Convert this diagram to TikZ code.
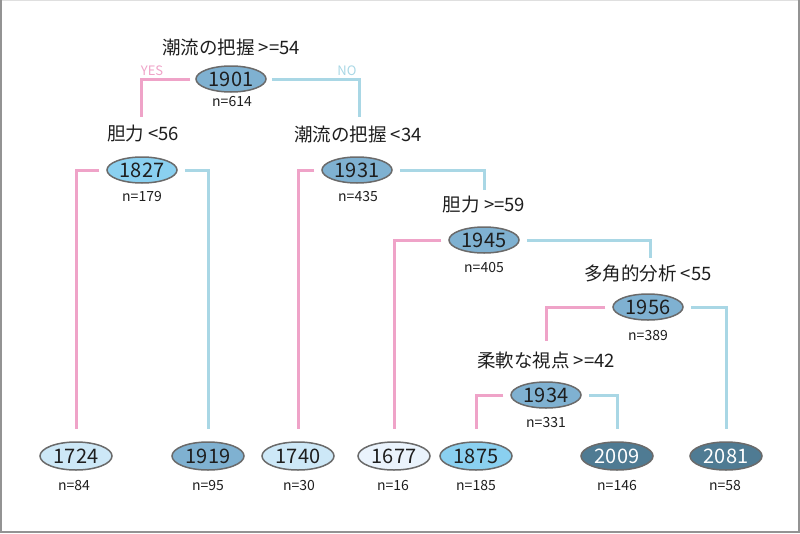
\documentclass[tikz,border=0pt]{standalone}
\usepackage{fontspec}
\setmainfont{Noto Sans CJK JP}
\usetikzlibrary{shapes.geometric}
\definecolor{cmid}{HTML}{7FB1D1}
\definecolor{csky}{HTML}{8AD0F0}
\definecolor{clight}{HTML}{CDE8F7}
\definecolor{cpale}{HTML}{EAF3FC}
\definecolor{cdark}{HTML}{4F7B93}
\definecolor{cyes}{HTML}{EFA3C8}
\definecolor{cno}{HTML}{A9D7E5}
\definecolor{cedge}{HTML}{6A6A6A}
\definecolor{ctext}{HTML}{1E1E1E}
\tikzset{
  ell/.style={ellipse, draw=cedge, line width=1.5pt, minimum width=70pt, minimum height=26pt, inner sep=0pt, text=ctext, font=\fontsize{20}{20}\selectfont},
  leaf/.style={ell, minimum width=72pt, minimum height=28pt},
  cond/.style={text=ctext, font=\fontsize{18.5}{19}\selectfont, inner sep=0pt},
  cnt/.style={text=ctext, font=\fontsize{14}{14}\selectfont, inner sep=0pt},
  yesl/.style={draw=cyes, line width=3pt},
  nol/.style={draw=cno, line width=3pt},
}
\begin{document}
\begin{tikzpicture}[x=1pt,y=-1pt]
\useasboundingbox (0,0) rectangle (800,533);
\draw[draw=gray!25, line width=1pt] (0,0.5) -- (800,0.5);
\draw[draw=gray!85, line width=2.2pt] (1.1,0) -- (1.1,531.9) -- (798.9,531.9) -- (798.9,0);

% internal nodes
\node[ell, fill=cmid] (n1901) at (231,79) {1901};
\node[ell, fill=csky] (n1827) at (142,170) {1827};
\node[ell, fill=cmid] (n1931) at (357,170) {1931};
\node[ell, fill=cmid] (n1945) at (484,240) {1945};
\node[ell, fill=cmid] (n1956) at (648,307) {1956};
\node[ell, fill=cmid] (n1934) at (546,395) {1934};
% leaves
\node[leaf, fill=clight] (l1724) at (76,456) {1724};
\node[leaf, fill=cmid] (l1919) at (208,456) {1919};
\node[leaf, fill=clight] (l1740) at (298,456) {1740};
\node[leaf, fill=cpale] (l1677) at (394,456) {1677};
\node[leaf, fill=csky] (l1875) at (476,456) {1875};
\node[leaf, fill=cdark, text=white] (l2009) at (617,456) {2009};
\node[leaf, fill=cdark, text=white] (l2081) at (726,456) {2081};

% conditions
\node[cond] (c1) at (231,47) {潮流の把握 >=54};
\node[cond] (c2) at (143,134) {胆力 <56};
\node[cond] (c3) at (358,134) {潮流の把握 <34};
\node[cond] (c4) at (484,205) {胆力 >=59};
\node[cond] (c5) at (648,273) {多角的分析 <55};
\node[cond] (c6) at (546,360) {柔軟な視点 >=42};

% counts
\node[cnt] (k1) at (232,102) {n=614};
\node[cnt] (k2) at (142,197) {n=179};
\node[cnt] (k3) at (358,197) {n=435};
\node[cnt] (k4) at (484,268) {n=405};
\node[cnt] (k5) at (648,336) {n=389};
\node[cnt] (k6) at (546,423) {n=331};
\node[cnt] (k7) at (74,486) {n=84};
\node[cnt] (k8) at (208,486) {n=95};
\node[cnt] (k9) at (299,486) {n=30};
\node[cnt] (k10) at (393,486) {n=16};
\node[cnt] (k11) at (476,486) {n=185};
\node[cnt] (k12) at (617,486) {n=146};
\node[cnt] (k13) at (725,486) {n=58};

% yes/no
\node[text=cyes, font=\fontsize{13}{13}\selectfont, inner sep=0pt] (yes) at (152,71) {YES};
\node[text=cno, font=\fontsize{13}{13}\selectfont, inner sep=0pt] (no) at (347,71) {NO};

% connectors
\coordinate (a1) at (141,117);
\coordinate (a2) at (359,117);
\draw[yesl] ([xshift=-5pt]n1901.west) -| (a1);
\draw[nol] ([xshift=5pt]n1901.east) -| (a2);

\draw[yesl] ([xshift=-7pt]n1827.west) -| ([yshift=12pt]l1724.north);
\draw[nol] ([xshift=7pt]n1827.east) -| ([yshift=12pt]l1919.north);

\coordinate (a3) at (484,190);
\draw[yesl] ([xshift=-7pt]n1931.west) -| ([yshift=12pt]l1740.north);
\draw[nol] ([xshift=7pt]n1931.east) -| (a3);

\coordinate (a4) at (650,258);
\draw[yesl] ([xshift=-7pt]n1945.west) -| ([yshift=12pt]l1677.north);
\draw[nol] ([xshift=7pt]n1945.east) -| (a4);

\coordinate (a5) at (546,341);
\draw[yesl] ([xshift=-7pt]n1956.west) -| (a5);
\draw[nol] ([xshift=7pt]n1956.east) -| ([yshift=12pt]l2081.north);

\draw[yesl] ([xshift=-7pt]n1934.west) -| ([yshift=12pt]l1875.north);
\draw[nol] ([xshift=7pt]n1934.east) -| ([yshift=12pt]l2009.north);
\end{tikzpicture}
\end{document}
